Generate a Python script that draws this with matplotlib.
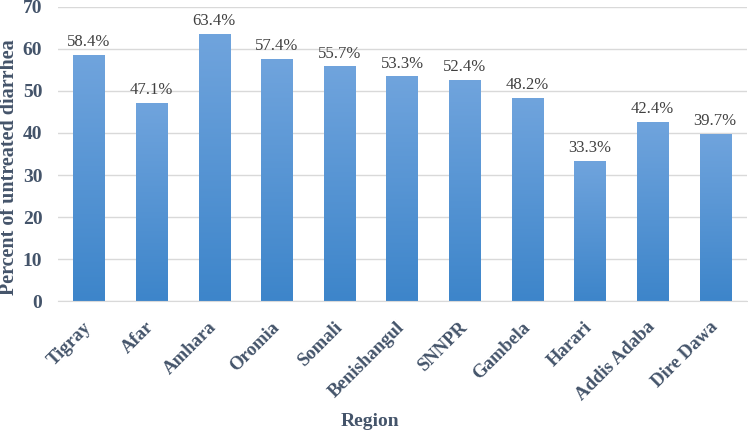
import matplotlib.pyplot as plt
import numpy as np
from matplotlib.colors import LinearSegmentedColormap

regions = ["Tigray", "Afar", "Amhara", "Oromia", "Somali", "Benishangul",
           "SNNPR", "Gambela", "Harari", "Addis Adaba", "Dire Dawa"]
values = [58.4, 47.1, 63.4, 57.4, 55.7, 53.3, 52.4, 48.2, 33.3, 42.4, 39.7]
yticks = [0, 10, 20, 30, 40, 50, 60, 70]

plt.rcParams['font.family'] = ['Liberation Serif', 'DejaVu Serif']
txt_col = "#44546a"

fig = plt.figure(figsize=(7.48, 4.32), dpi=100)
ax = fig.add_axes([0.077, 0.303, 0.921, 0.681])

# vertical gradient on each bar, darker at the bottom
cmap = LinearSegmentedColormap.from_list("bar", ["#3d85ca", "#70a4dd"])
grad = np.linspace(0, 1, 256).reshape(-1, 1)
width = 0.5
x = np.arange(len(regions))
bars = ax.bar(x, values, width=width, color="none", zorder=2)
for b, v in zip(bars, values):
    ax.imshow(grad, cmap=cmap, origin="lower", aspect="auto",
              extent=[b.get_x(), b.get_x() + width, 0, v], zorder=2)
    ax.text(b.get_x() + width / 2, v + 1.3, "%.1f%%" % v, ha="center",
            va="bottom", fontsize=12, color="#404040")

ax.set_xlim(-0.5, len(regions) - 0.5)
ax.set_ylim(0, 70)
ax.set_yticks(yticks)
ax.yaxis.grid(True, color="#d9d9d9", linewidth=1, zorder=0)
ax.set_axisbelow(True)
for s in ["top", "right", "left"]:
    ax.spines[s].set_visible(False)
ax.spines["bottom"].set_color("#d9d9d9")
ax.tick_params(axis="both", length=0)
ax.tick_params(axis="y", pad=11)
ax.tick_params(axis="x", pad=17)
ax.set_xticks(x)
ax.set_xticklabels(regions, rotation=45, ha="right", va="center",
                   rotation_mode="anchor",
                   fontsize=13.5, fontweight="bold", color=txt_col)
for lab in ax.get_yticklabels():
    lab.set_fontsize(14)
    lab.set_fontweight("bold")
    lab.set_color(txt_col)

fig.text(0.012, 0.613, "Percent of untreated diarrhea", rotation=90,
         ha="center", va="center", fontsize=14.5, fontweight="bold",
         color=txt_col)
fig.text(0.495, 0.014, "Region", ha="center", fontsize=14,
         fontweight="bold", color=txt_col)

plt.savefig("out.png", dpi=100)
